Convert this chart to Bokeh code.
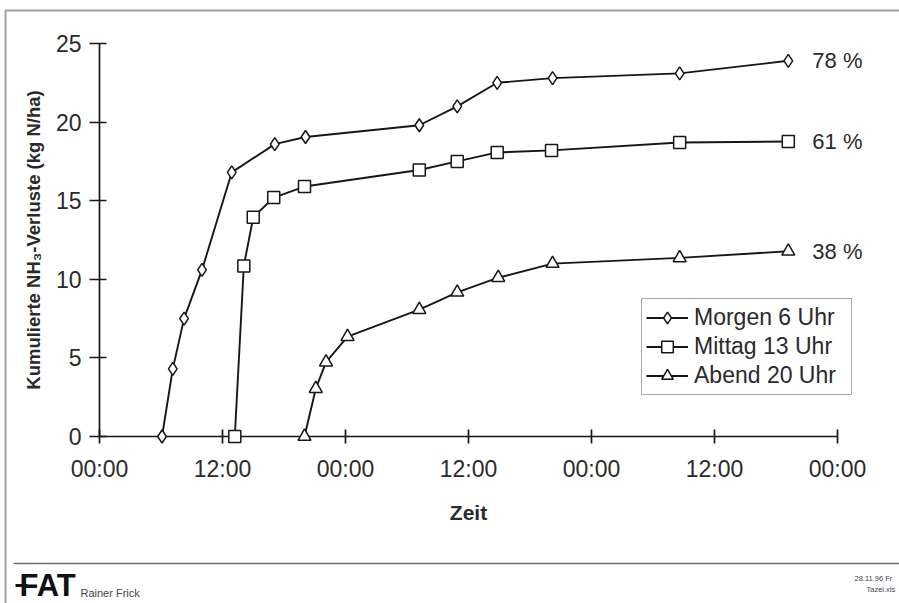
from bokeh.plotting import figure
from bokeh.models import Range1d, FixedTicker, Legend, LegendItem, ColumnDataSource
from bokeh.core.properties import value
from bokeh.embed import file_html
from bokeh.resources import INLINE

# ---------------- data (hours since 00:00 of day 1, kg N/ha) ----------------
morgen_h = [6.1, 7.15, 8.25, 10.0, 12.9, 17.1, 20.1, 31.2, 34.9, 38.8, 44.2, 56.6, 67.2]
morgen_v = [0.0, 4.3, 7.5, 10.6, 16.8, 18.6, 19.05, 19.8, 21.0, 22.5, 22.8, 23.1, 23.9]
mittag_h = [13.2, 14.08, 15.0, 17.0, 20.0, 31.2, 34.9, 38.8, 44.1, 56.6, 67.2]
mittag_v = [0.0, 10.85, 13.95, 15.2, 15.9, 16.95, 17.5, 18.07, 18.2, 18.7, 18.77]
abend_h = [20.0, 21.1, 22.1, 24.2, 31.2, 34.9, 38.9, 44.2, 56.6, 67.2]
abend_v = [0.0, 3.04, 4.73, 6.35, 8.07, 9.17, 10.1, 11.0, 11.36, 11.78]

series_names = ["Morgen 6 Uhr", "Mittag 13 Uhr", "Abend 20 Uhr"]
series_markers = ["diamond", "square", "triangle"]
pct_labels = ["78 %", "61 %", "38 %"]

x_ticks = [0, 12, 24, 36, 48, 60, 72]
x_tick_labels = ["00:00", "12:00", "00:00", "12:00", "00:00", "12:00", "00:00"]
y_ticks = [0, 5, 10, 15, 20, 25]
x_title = "Zeit"
y_title = "Kumulierte NH\u2083-Verluste (kg N/ha)"

footer_logo = "FAT"
footer_author = "Rainer Frick"
footer_date = "28.11.96 Fr"
footer_file = "Tazei.xls"

FONT = "Liberation Sans"
INK = "#161616"
TXT = "#2a2a2a"

W, H = 899, 603
X_END = 72.0
FRAME_L, AXIS_R, FRAME_T, FRAME_B = 99, 837, 43, 436
PX_PER_H = (AXIS_R - FRAME_L) / X_END
FRAME_R = 880
X_MAX = (FRAME_R - FRAME_L) / PX_PER_H
ML, MR, MT, MB = FRAME_L, W - FRAME_R, FRAME_T, H - FRAME_B

p = figure(width=W, height=H, output_backend="svg", toolbar_location=None,
           x_range=Range1d(0, X_MAX), y_range=Range1d(0, 25),
           min_border_left=ML, min_border_right=MR,
           min_border_top=MT, min_border_bottom=MB)
p.background_fill_color = "white"
p.border_fill_color = "white"
p.outline_line_color = None
p.grid.visible = False

# axes
p.xaxis.ticker = FixedTicker(ticks=x_ticks)
p.xaxis.bounds = (0, X_END)
p.xaxis.major_label_overrides = {t: l for t, l in zip(x_ticks, x_tick_labels)}
p.yaxis.ticker = FixedTicker(ticks=y_ticks)
for ax in (p.xaxis, p.yaxis):
    ax.axis_line_color = INK
    ax.axis_line_width = 1.7
    ax.major_tick_line_color = INK
    ax.major_tick_line_width = 1.7
    ax.minor_tick_line_color = None
    ax.major_label_text_font = FONT
    ax.major_label_text_font_size = "23px"
    ax.major_label_text_color = TXT
    ax.axis_label_text_font = FONT
    ax.axis_label_text_font_style = "bold"
    ax.axis_label_text_color = TXT
p.xaxis.major_tick_in = 7
p.xaxis.major_tick_out = 7
p.xaxis.major_label_standoff = 12
p.yaxis.major_tick_in = 7
p.yaxis.major_tick_out = 10
p.yaxis.major_label_standoff = 8
p.yaxis.axis_label = y_title
p.yaxis.axis_label_text_font_size = "18.5px"
p.yaxis.axis_label_standoff = 9

# x-axis title, centred under the 0..72 h axis span
p.text([X_END / 2], [0], text=[x_title], y_offset=76, text_align="center",
       text_baseline="middle", text_font=value(FONT), text_font_style="bold",
       text_font_size="21px", text_color=TXT, level="overlay")

# series
items = []
all_h = [morgen_h, mittag_h, abend_h]
all_v = [morgen_v, mittag_v, abend_v]
sizes = [13, 12, 13]
for name, hs, vs, mk, sz in zip(series_names, all_h, all_v, series_markers, sizes):
    src = ColumnDataSource(dict(h=hs, v=vs))
    lr = p.line("h", "v", source=src, line_color=INK, line_width=1.9, level="overlay")
    sr = p.scatter("h", "v", source=src, marker=mk, size=sz, fill_color="white",
                   line_color=INK, line_width=1.5, level="overlay")
    items.append(LegendItem(label=name, renderers=[lr, sr]))

legend = Legend(items=items, location=(542, 41))
legend.label_text_font = FONT
legend.label_text_font_size = "23px"
legend.label_text_color = TXT
legend.border_line_color = "#555555"
legend.border_line_width = 1
legend.background_fill_color = "white"
legend.background_fill_alpha = 1.0
legend.glyph_width = 42
legend.glyph_height = 29
legend.label_height = 29
legend.label_width = 153
legend.label_standoff = 6
legend.padding = 4
legend.spacing = 0
legend.margin = 0
p.add_layout(legend)

# end percentages, next to each series' last point
end_src = ColumnDataSource(dict(x=[s[-1] for s in all_h], y=[s[-1] for s in all_v],
                                t=pct_labels))
p.text("x", "y", text="t", source=end_src, x_offset=24, text_baseline="middle",
       text_align="left", text_font=value(FONT), text_font_size="22px",
       text_color=TXT, level="overlay")

# ---------- page decoration (positions given in page pixels) ----------
PX_PER_V = (FRAME_B - FRAME_T) / 25.0


def dx(px):
    return (px - FRAME_L) / PX_PER_H


def dy(py):
    return (FRAME_B - py) / PX_PER_V


# outer border (top and left) and footer separator
p.line([dx(5), dx(5), dx(W + 20)], [dy(H + 20), dy(10), dy(10)],
       line_color="#a0a0a0", line_width=2, level="overlay")
p.line([dx(13), dx(W + 20)], [dy(563), dy(563)],
       line_color="#6e6e6e", line_width=1.6, level="overlay")

p.text([dx(19)], [dy(585)], text=[footer_logo], text_baseline="middle",
       text_font=value(FONT), text_font_style="bold", text_font_size="31px",
       text_color="#111111", level="overlay")
p.line([dx(15), dx(27)], [dy(585), dy(585)], line_color="#111111", line_width=3,
       level="overlay")
p.text([dx(80)], [dy(592)], text=[footer_author], text_baseline="middle",
       text_font=value(FONT), text_font_size="11px", text_color="#444444",
       level="overlay")
p.text([dx(854)], [dy(578)], text=[footer_date], text_baseline="middle",
       text_font=value(FONT), text_font_size="7.5px", text_color="#444444",
       level="overlay")
p.text([dx(866)], [dy(589)], text=[footer_file], text_baseline="middle",
       text_font=value(FONT), text_font_size="7.5px", text_color="#444444",
       level="overlay")

open("out.html", "w").write(file_html(p, INLINE))
